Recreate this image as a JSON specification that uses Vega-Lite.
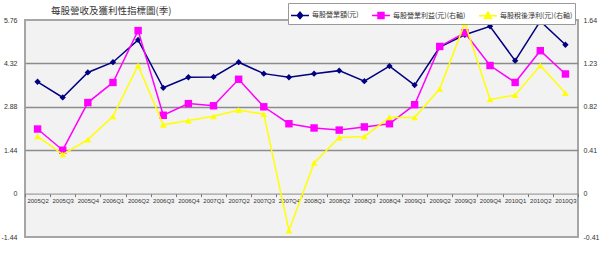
{
  "$schema": "https://vega.github.io/schema/vega-lite/v6.json",
  "width": 553,
  "height": 217,
  "autosize": {"type": "none"},
  "padding": {"left": 25, "top": 20, "right": 22, "bottom": 31},
  "background": "white",
  "config": {
    "view": {"fill": "#f2f2f2", "stroke": "#a6a6a6", "strokeWidth": 2},
    "font": "Noto Sans CJK TC"
  },
  "title": {
    "text": "每股營收及獲利性指標圖(季)",
    "anchor": "start",
    "frame": "group",
    "fontSize": 9.5,
    "fontWeight": "normal",
    "color": "#333333",
    "offset": 3,
    "dx": 26,
    "dy": 16
  },
  "data": {
    "values": [
      {"q": "2005Q2", "rev": 3.71, "op": 0.61, "net": 0.54},
      {"q": "2005Q3", "rev": 3.19, "op": 0.41, "net": 0.37},
      {"q": "2005Q4", "rev": 4.02, "op": 0.86, "net": 0.51},
      {"q": "2006Q1", "rev": 4.36, "op": 1.05, "net": 0.73},
      {"q": "2006Q2", "rev": 5.10, "op": 1.54, "net": 1.21},
      {"q": "2006Q3", "rev": 3.51, "op": 0.74, "net": 0.65},
      {"q": "2006Q4", "rev": 3.86, "op": 0.85, "net": 0.69},
      {"q": "2007Q1", "rev": 3.87, "op": 0.83, "net": 0.73},
      {"q": "2007Q2", "rev": 4.36, "op": 1.08, "net": 0.79},
      {"q": "2007Q3", "rev": 3.98, "op": 0.82, "net": 0.75},
      {"q": "2007Q4", "rev": 3.86, "op": 0.66, "net": -0.35},
      {"q": "2008Q1", "rev": 3.98, "op": 0.62, "net": 0.29},
      {"q": "2008Q2", "rev": 4.08, "op": 0.60, "net": 0.53},
      {"q": "2008Q3", "rev": 3.73, "op": 0.63, "net": 0.54},
      {"q": "2008Q4", "rev": 4.23, "op": 0.66, "net": 0.72},
      {"q": "2009Q1", "rev": 3.60, "op": 0.84, "net": 0.72},
      {"q": "2009Q2", "rev": 4.86, "op": 1.39, "net": 0.99},
      {"q": "2009Q3", "rev": 5.27, "op": 1.52, "net": 1.61},
      {"q": "2009Q4", "rev": 5.55, "op": 1.21, "net": 0.89},
      {"q": "2010Q1", "rev": 4.41, "op": 1.05, "net": 0.93},
      {"q": "2010Q2", "rev": 5.72, "op": 1.35, "net": 1.21},
      {"q": "2010Q3", "rev": 4.94, "op": 1.13, "net": 0.95}
    ]
  },
  "encoding": {
    "x": {
      "field": "q",
      "type": "ordinal",
      "sort": null,
      "scale": {"type": "band", "paddingInner": 0, "paddingOuter": 0},
      "axis": {
        "title": null,
        "labelAngle": 0,
        "offset": -43.4,
        "tickBand": "extent",
        "tickSize": 3,
        "tickColor": "#777777",
        "domainColor": "#8c8c8c",
        "labelFont": "Liberation Sans",
        "labelFontSize": 6,
        "labelColor": "#333333",
        "labelPadding": 1,
        "grid": false
      }
    }
  },
  "layer": [
    {
      "layer": [
        {
          "mark": {"type": "line", "strokeWidth": 1.5},
          "encoding": {
            "y": {
              "field": "rev",
              "type": "quantitative",
              "scale": {"domain": [-1.44, 5.76], "nice": false, "zero": false},
              "axis": {
                "title": null,
                "values": [-1.44, 0, 1.44, 2.88, 4.32, 5.76],
                "domain": false,
                "ticks": false,
                "labelFont": "Liberation Sans",
                "labelFontSize": 7,
                "labelColor": "#333333",
                "labelPadding": 8,
                "labelExpr": "replace(format(datum.value, '.2~f'), '−', '-')",
                "gridColor": {
                  "condition": {"test": "datum.value == 0 || datum.value == 5.76 || datum.value == -1.44", "value": "transparent"},
                  "value": "#8c8c8c"
                },
                "gridWidth": 1.5
              }
            },
            "color": {
              "datum": "每股營業額(元)",
              "scale": {
                "domain": ["每股營業額(元)", "每股營業利益(元)(右軸)", "每股稅後淨利(元)(右軸)"],
                "range": ["#000080", "#ff00ff", "#ffff00"]
              },
              "legend": {
                "orient": "none",
                "legendX": 263,
                "legendY": -17,
                "direction": "horizontal",
                "title": null,
                "fillColor": "white",
                "strokeColor": "#999999",
                "padding": 2,
                "labelFontSize": 7,
                "labelColor": "#333333",
                "labelOffset": 2,
                "symbolSize": 324,
                "symbolStrokeWidth": 1.5,
                "symbolOpacity": 1,
                "columnPadding": 10,
                "encode": {
                  "symbols": {
                    "update": {
                      "shape": {"signal": "datum.value === '每股營業額(元)' ? 'M-1,0L1,0M0,-0.36L0.3,0L0,0.36L-0.3,0Z' : datum.value === '每股營業利益(元)(右軸)' ? 'M-1,0L1,0M-0.33,-0.33L0.33,-0.33L0.33,0.33L-0.33,0.33Z' : 'M-1,0L1,0M0,-0.4L0.38,0.28L-0.38,0.28Z'"},
                      "fill": {"signal": "scale('color', datum.value)"},
                      "stroke": {"signal": "scale('color', datum.value)"},
                      "opacity": {"value": 1}
                    }
                  }
                }
              }
            }
          }
        },
        {
          "mark": {"type": "point", "shape": "diamond", "filled": true, "size": 40, "opacity": 1},
          "encoding": {
            "y": {"field": "rev", "type": "quantitative"},
            "color": {"datum": "每股營業額(元)"}
          }
        }
      ]
    },
    {
      "layer": [
        {
          "mark": {"type": "line", "strokeWidth": 1.5},
          "encoding": {
            "y": {
              "field": "op",
              "type": "quantitative",
              "scale": {"domain": [-0.41, 1.64], "nice": false, "zero": false},
              "axis": {
                "orient": "right",
                "title": null,
                "values": [-0.41, 0, 0.41, 0.82, 1.23, 1.64],
                "grid": false,
                "domain": false,
                "ticks": false,
                "labelFont": "Liberation Sans",
                "labelFontSize": 7,
                "labelColor": "#333333",
                "labelPadding": 5,
                "labelExpr": "replace(format(datum.value, '.2~f'), '−', '-')"
              }
            },
            "color": {"datum": "每股營業利益(元)(右軸)"}
          }
        },
        {
          "mark": {"type": "point", "shape": "square", "filled": true, "size": 55, "opacity": 1},
          "encoding": {
            "y": {"field": "op", "type": "quantitative"},
            "color": {"datum": "每股營業利益(元)(右軸)"}
          }
        },
        {
          "mark": {"type": "line", "strokeWidth": 1.5},
          "encoding": {
            "y": {"field": "net", "type": "quantitative"},
            "color": {"datum": "每股稅後淨利(元)(右軸)"}
          }
        },
        {
          "mark": {"type": "point", "shape": "triangle-up", "filled": true, "size": 45, "opacity": 1},
          "encoding": {
            "y": {"field": "net", "type": "quantitative"},
            "color": {"datum": "每股稅後淨利(元)(右軸)"}
          }
        }
      ]
    }
  ],
  "resolve": {"scale": {"y": "independent"}}
}
